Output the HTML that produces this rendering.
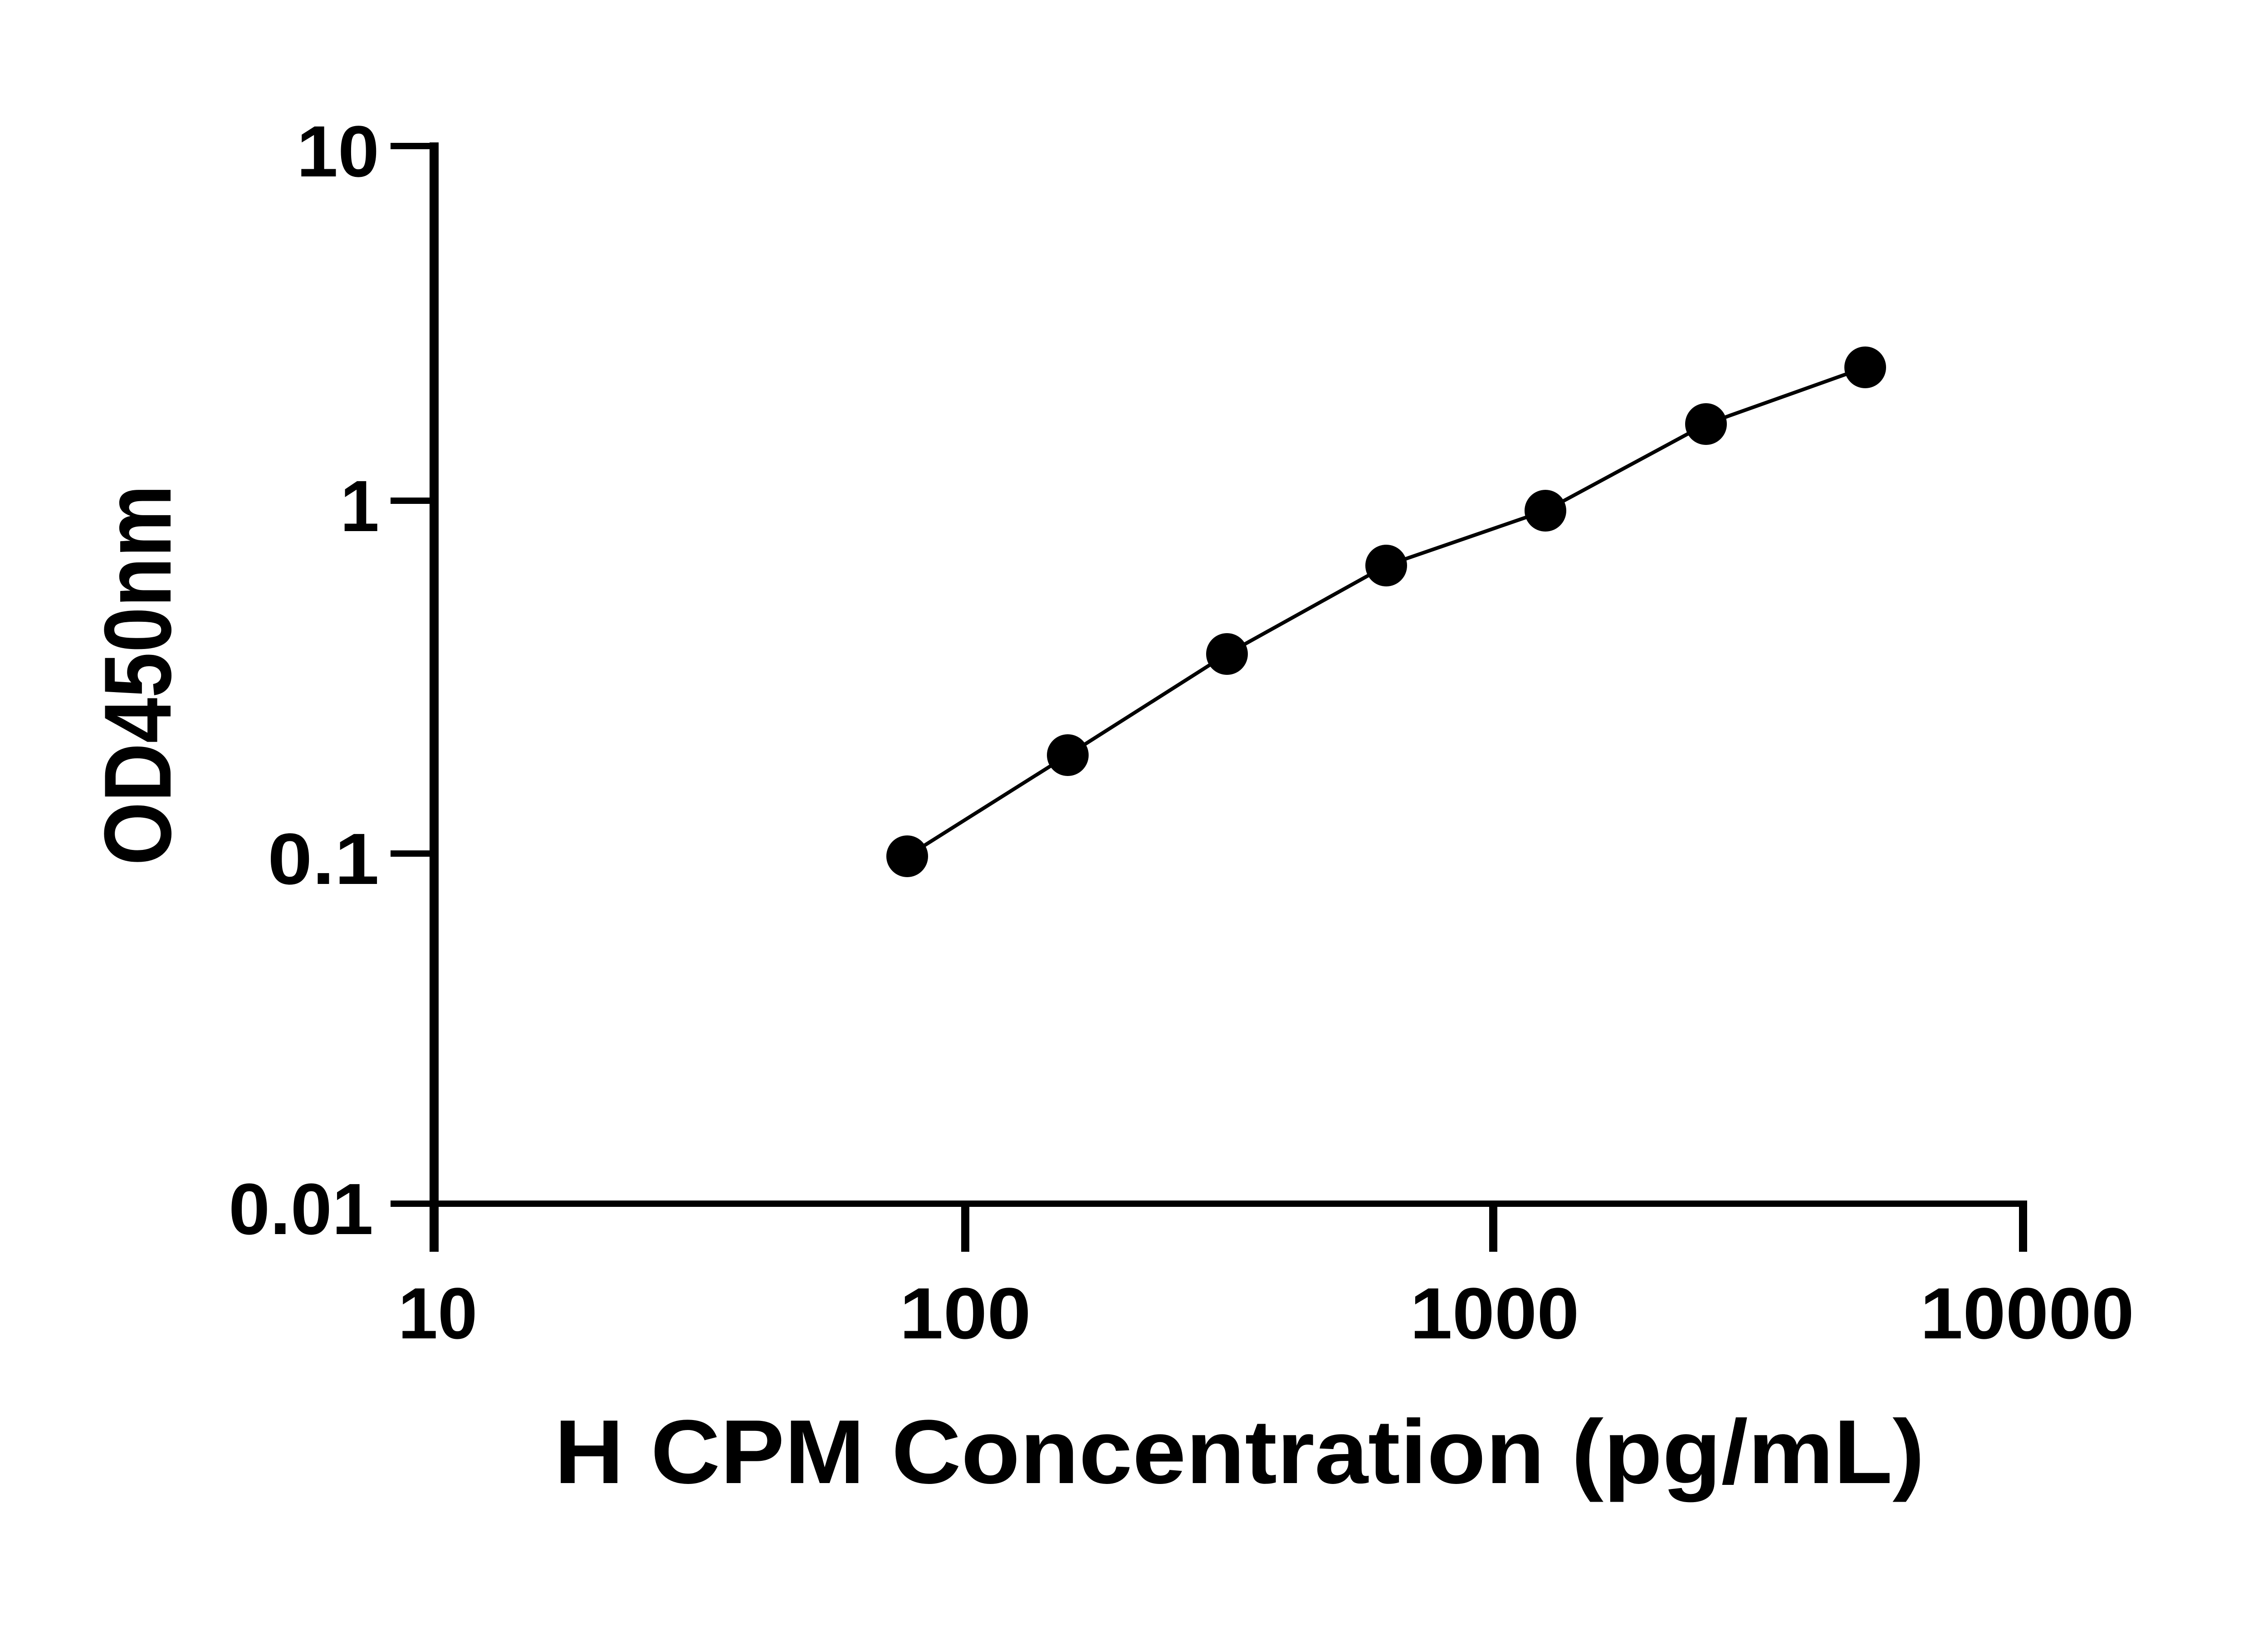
<!DOCTYPE html>
<html><head><style>html,body{margin:0;padding:0;background:#fff}</style></head>
<body>
<svg width="5142" height="3600" viewBox="0 0 5142 3600" xmlns="http://www.w3.org/2000/svg" font-family="Liberation Sans, sans-serif" font-weight="bold">
<rect width="5142" height="3600" fill="#fff"/>
<g stroke="#000" fill="none">
<line x1="957" y1="314" x2="957" y2="2760" stroke-width="20"/>
<line x1="947" y1="2654" x2="4460" y2="2654" stroke-width="14"/>
<line x1="861" y1="322" x2="957" y2="322" stroke-width="14"/>
<line x1="861" y1="1104" x2="957" y2="1104" stroke-width="14"/>
<line x1="861" y1="1882" x2="957" y2="1882" stroke-width="14"/>
<line x1="861" y1="2654" x2="957" y2="2654" stroke-width="14"/>
<line x1="2128" y1="2654" x2="2128" y2="2760" stroke-width="18"/>
<line x1="3292" y1="2654" x2="3292" y2="2760" stroke-width="18"/>
<line x1="4460" y1="2647" x2="4460" y2="2760" stroke-width="18"/>
</g>
<g font-size="160" fill="#000" text-anchor="end">
<text x="836" y="389" textLength="182" lengthAdjust="spacingAndGlyphs">10</text>
<text x="836" y="1171" textLength="86" lengthAdjust="spacingAndGlyphs">1</text>
<text x="836" y="1949" textLength="246" lengthAdjust="spacingAndGlyphs">0.1</text>
<text x="823" y="2721" textLength="319" lengthAdjust="spacingAndGlyphs">0.01</text>
</g>
<g font-size="160" fill="#000" text-anchor="middle">
<text x="965" y="2951" textLength="175" lengthAdjust="spacingAndGlyphs">10</text>
<text x="2128" y="2951" textLength="290" lengthAdjust="spacingAndGlyphs">100</text>
<text x="3295" y="2951" textLength="373" lengthAdjust="spacingAndGlyphs">1000</text>
<text x="4469" y="2951" textLength="472" lengthAdjust="spacingAndGlyphs">10000</text>
</g>
<text x="1222" y="3270" font-size="200" textLength="3021" lengthAdjust="spacingAndGlyphs">H CPM Concentration (pg/mL)</text>
<text transform="translate(376,1908) rotate(-90)" font-size="210" textLength="839" lengthAdjust="spacingAndGlyphs">OD450nm</text>
<polyline fill="none" stroke="#000" stroke-width="8" points="2000,1888 2354,1665 2705,1442 3056,1247 3407,1126 3761,935 4112,810"/>
<g fill="#000">
<circle cx="2000" cy="1888" r="46"/>
<circle cx="2354" cy="1665" r="46"/>
<circle cx="2705" cy="1442" r="46"/>
<circle cx="3056" cy="1247" r="46"/>
<circle cx="3407" cy="1126" r="46"/>
<circle cx="3761" cy="935" r="46"/>
<circle cx="4112" cy="810" r="46"/>
</g>
</svg>
</body></html>
